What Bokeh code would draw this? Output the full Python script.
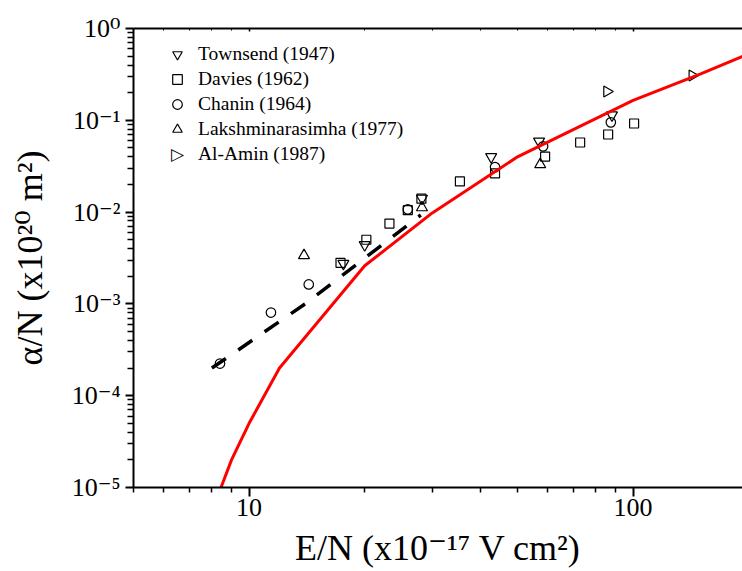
import math
from bokeh.plotting import figure
from bokeh.models import (FixedTicker, LogAxis, Label, Legend, LegendItem,
                          CustomJSTickFormatter, Range1d)
from bokeh.embed import file_html
from bokeh.resources import INLINE

# ---------------- data ----------------
red_x = [8.45, 9.0, 10.0, 12.0, 20.0, 30.0, 50.0, 100.0, 150.0, 200.0]
red_y = [1.0e-5, 2.0e-5, 5.0e-5, 2.0e-4, 2.6e-3, 9.8e-3, 0.040, 0.165, 0.32, 0.53]

dash_x = [8.0, 14.0, 28.0]
dash_y = [2.0e-4, 1.0e-3, 9.3e-3]

townsend_x = [17.6, 20.0, 28.2, 42.7, 56.9, 88.1]
townsend_y = [2.75e-3, 4.4e-3, 0.0141, 0.040, 0.059, 0.114]

davies_x = [17.3, 20.2, 23.2, 25.9, 28.1, 35.4, 43.7, 59.0, 72.8, 86.1, 100.6]
davies_y = [2.8e-3, 5.0e-3, 7.5e-3, 0.0105, 0.0140, 0.0216, 0.0264, 0.0403, 0.0573, 0.070, 0.0923]

chanin_x = [8.4, 11.4, 14.3, 25.9, 43.7, 58.3, 87.5]
chanin_y = [2.24e-4, 8.05e-4, 1.63e-3, 0.0107, 0.0309, 0.052, 0.095]

laksh_x = [13.9, 28.2, 57.3]
laksh_y = [3.37e-3, 0.0112, 0.033]

alamin_x = [85.5, 142.6]
alamin_y = [0.206, 0.308]

series_names = ["Townsend (1947)", "Davies (1962)", "Chanin (1964)",
                "Lakshminarasimha (1977)", "Al-Amin (1987)"]

x_title = "E/N (x10\u207b\u00b9\u2077 V cm\u00b2)"
y_title = "\u03b1/N (x10\u00b2\u2070 m\u00b2)"

x_major = [10, 100]
x_minor = [5, 6, 7, 8, 9, 20, 30, 40, 50, 60, 70, 80, 90, 200]
y_exponents = [-5, -4, -3, -2, -1, 0]
y_major = [10.0 ** e for e in y_exponents]
y_minor = [k * 10.0 ** e for e in y_exponents[:-1] for k in range(2, 10)]

SERIF = "Liberation Serif, DejaVu Serif"

# ---------------- figure ----------------
W, H = 742, 571
ML, MR, MT, MB = 133, 0, 28, 84
decade_px = 384.0
x_start = 5.0
x_end = x_start * 10 ** ((W - ML - MR) / decade_px)

p = figure(width=W, height=H, x_axis_type="log", y_axis_type="log",
           x_range=Range1d(x_start, x_end), y_range=Range1d(1e-5, 1.0),
           output_backend="svg", toolbar_location=None,
           min_border_left=ML, min_border_right=MR,
           min_border_top=MT, min_border_bottom=MB)
p.outline_line_color = None
p.xgrid.visible = False
p.ygrid.visible = False
p.background_fill_color = "white"
p.border_fill_color = "white"

xa = p.xaxis[0]
xa.ticker = FixedTicker(ticks=x_major, minor_ticks=x_minor)
xa.formatter = CustomJSTickFormatter(code="return tick.toFixed(0)")
xa.axis_line_width = 2
xa.major_tick_line_width = 2
xa.minor_tick_line_width = 1.5
xa.major_tick_in = 0
xa.major_tick_out = 9
xa.minor_tick_in = 0
xa.minor_tick_out = 5
xa.major_label_text_font = SERIF
xa.major_label_text_font_size = "26px"
xa.major_label_text_color = "black"
xa.major_label_standoff = 2
xa.axis_label = x_title
xa.axis_label_text_font = SERIF
xa.axis_label_text_font_size = "36px"
xa.axis_label_text_font_style = "normal"
xa.axis_label_text_color = "black"
xa.axis_label_standoff = 9

sup_js = """
const sup = {"-": "\u207b", "0": "\u2070", "1": "\u00b9", "2": "\u00b2", "3": "\u00b3",
             "4": "\u2074", "5": "\u2075", "6": "\u2076", "7": "\u2077", "8": "\u2078", "9": "\u2079"};
const e = Math.round(Math.log10(tick));
return "10" + String(e).split("").map(c => sup[c]).join("");
"""

ya = p.yaxis[0]
ya.ticker = FixedTicker(ticks=y_major, minor_ticks=y_minor)
ya.formatter = CustomJSTickFormatter(code=sup_js)
ya.axis_line_width = 2
ya.major_tick_line_width = 2
ya.minor_tick_line_width = 1.5
ya.major_tick_in = 0
ya.major_tick_out = 8
ya.minor_tick_in = 0
ya.minor_tick_out = 6
ya.major_label_text_font = SERIF
ya.major_label_text_font_size = "26px"
ya.major_label_text_color = "black"
ya.major_label_standoff = 5
ya.axis_label = y_title
ya.axis_label_text_font = SERIF
ya.axis_label_text_font_size = "36px"
ya.axis_label_text_font_style = "normal"
ya.axis_label_text_color = "black"
ya.axis_label_standoff = 19

top = LogAxis(ticker=FixedTicker(ticks=x_major, minor_ticks=x_minor),
              formatter=CustomJSTickFormatter(code="return ''"),
              axis_line_width=2, major_tick_in=3, major_tick_out=0,
              minor_tick_in=2, minor_tick_out=0,
              major_tick_line_width=1.5, minor_tick_line_width=1)
p.add_layout(top, "above")

# ---------------- markers ----------------
mk = dict(fill_color=None, line_color="black", line_width=1.2)
r_t = p.scatter(townsend_x, townsend_y, marker="inverted_triangle", size=11, **mk)
r_d = p.scatter(davies_x, davies_y, marker="square", size=9, **mk)
r_c = p.scatter(chanin_x, chanin_y, marker="circle", size=9.5, **mk)
r_l = p.scatter(laksh_x, laksh_y, marker="triangle", size=11, **mk)
r_a = p.scatter(alamin_x, alamin_y, marker="triangle", angle=-math.pi / 2, size=11, **mk)
# legend stand-in for Al-Amin: glyph box left empty, symbol drawn as a text label
r_a_key = p.scatter([], [], marker="triangle", fill_alpha=0, line_alpha=0)

# ---------------- lines ----------------
p.line(dash_x, dash_y, line_color="black", line_width=3.5, line_dash="17 15")
p.line(red_x, red_y, line_color="#ff0000", line_width=3)

# ---------------- legend ----------------
legend = Legend(items=[LegendItem(label=n, renderers=[r])
                       for n, r in zip(series_names, [r_t, r_d, r_c, r_l, r_a_key])],
                location=(32, 321), padding=0, margin=0, spacing=1,
                glyph_width=24, glyph_height=24, label_height=24,
                label_standoff=9, border_line_color=None,
                background_fill_alpha=0,
                label_text_font="Liberation Serif", label_text_font_size="19.5px",
                label_text_color="black")
p.add_layout(legend)

# "screen" units are measured from the frame's bottom-left corner
p.add_layout(Label(x=44, y=334, x_units="screen", y_units="screen",
                   text="\u25b7", text_align="center", text_baseline="middle",
                   text_font="DejaVu Sans", text_font_size="17px", text_color="black"))

open("out.html", "w").write(file_html(p, INLINE))
